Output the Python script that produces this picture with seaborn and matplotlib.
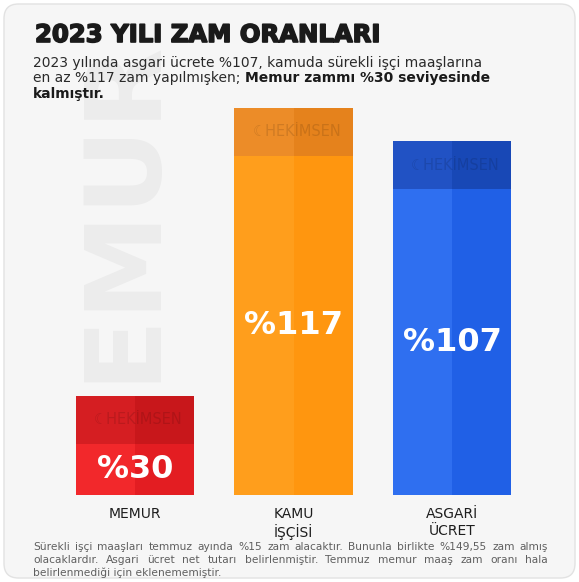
import matplotlib
matplotlib.use("agg")

import matplotlib.pyplot as plt
import matplotlib.patheffects as pe
import seaborn as sns
import pandas as pd
from matplotlib.patches import FancyBboxPatch

categories = ["MEMUR", "KAMU\nİŞÇİSİ", "ASGARİ\nÜCRET"]
values = [30, 117, 107]
value_labels = ["%30", "%117", "%107"]
base_colors = ["#f2282b", "#ff9e1c", "#2f6ff0"]
shade_colors = ["#e31d22", "#ff960f", "#2060e6"]
band_colors = ["#d51e22", "#ec8c28", "#2152c4"]
band_shade_colors = ["#c8171b", "#e5821c", "#1848b6"]

title = "2023 YILI ZAM ORANLARI"
subtitle_lines = [
    ("2023 yılında asgari ücrete %107, kamuda sürekli işçi maaşlarına", ""),
    ("en az %117 zam yapılmışken; ", "Memur zammı %30 seviyesinde"),
    ("", "kalmıştır."),
]
footer_lines = [
    "Sürekli işçi maaşları temmuz ayında %15 zam alacaktır. Bununla birlikte %149,55 zam almış",
    "olacaklardır. Asgari ücret net tutarı belirlenmiştir. Temmuz memur maaş zam oranı hala",
    "belirlenmediği için eklenememiştir.",
]

sns.set_theme(style="white")
plt.rcParams["font.family"] = ["DejaVu Sans"]

W, H = 579, 582
fig = plt.figure(figsize=(W / 100, H / 100), dpi=100)
fig.patch.set_facecolor("white")

# card background
card = FancyBboxPatch((4 / W, 4 / H), 1 - 8 / W, 1 - 8 / H,
                      boxstyle="round,pad=0,rounding_size=0.025",
                      transform=fig.transFigure, facecolor="#f6f6f6",
                      edgecolor="#e2e2e2", linewidth=1, zorder=-2)
fig.patches.append(card)

# faint watermark
fig.text(123 / W, 1 - 262 / H, "MEMUR", rotation=90, fontsize=76,
         fontweight="heavy", color="#ececec", ha="center", va="center", zorder=-1)

ax = fig.add_axes([55.75 / W, 87 / H, 475.5 / W, 430 / H])
ax.set_facecolor("none")
ax.set_zorder(1)

df = pd.DataFrame({"category": categories, "value": values})
bar_w = 0.745
sns.barplot(data=df, x="category", y="value", hue="category", linewidth=0,
            palette=base_colors, width=bar_w, legend=False, saturation=1, ax=ax)

band = 14.5
xs = range(len(categories))
for i in xs:
    v = values[i]
    ax.bar(i + bar_w / 4, v - band, width=bar_w / 2, color=shade_colors[i], linewidth=0, zorder=2)
    ax.bar(i - bar_w / 4, band, bottom=v - band, width=bar_w / 2, color=band_colors[i],
           linewidth=0, zorder=2)
    ax.bar(i + bar_w / 4, band, bottom=v - band, width=bar_w / 2, color=band_shade_colors[i],
           linewidth=0, zorder=2)
    ax.text(i + 0.02, v - band / 2, "☾HEKİMSEN", ha="center", va="center", fontsize=10.5,
            color="black", alpha=0.12, zorder=3)
    ax.text(i, (v - band) / 2, value_labels[i], ha="center", va="center",
            fontsize=23, fontweight="bold", color="white", zorder=3)

ax.set_xlim(-0.5, 2.5)
ax.set_ylim(0, 130)
ax.set_xlabel("")
ax.set_ylabel("")
ax.set_yticks([])
ax.tick_params(axis="x", length=0, pad=9)
ax.set_xticks(list(xs))
ax.set_xticklabels(categories, fontsize=10, color="#1e1e1e", linespacing=1.2)
sns.despine(ax=ax, left=True, bottom=True)

# title and subtitle
fig.text(35 / W, 1 - 35 / H, title, fontsize=17.5, fontweight="heavy",
         color="#1a1a1a", va="center", ha="left",
         path_effects=[pe.withStroke(linewidth=1.2, foreground="#1a1a1a")])

y0 = 67
for k, (normal, bold) in enumerate(subtitle_lines):
    y = 1 - (y0 + k * 15.5) / H
    t = fig.text(33 / W, y, normal, fontsize=10, color="#2a2a2a", va="baseline")
    if bold:
        if normal:
            ax.annotate(bold, xy=(1, 0), xycoords=t, fontsize=10, fontweight="bold",
                        color="#1a1a1a", va="bottom", ha="left", annotation_clip=False)
        else:
            fig.text(33 / W, y, bold, fontsize=10, fontweight="bold",
                     color="#1a1a1a", va="baseline")

# footer, justified for the full lines
renderer = fig.canvas.get_renderer()
left_px, right_px = 33, 548
for k, line in enumerate(footer_lines):
    y = 1 - (550 + k * 13) / H
    if k == len(footer_lines) - 1:
        fig.text(left_px / W, y, line, fontsize=7.7, color="#5f5f5f", va="baseline")
        continue
    words = line.split(" ")
    objs = [fig.text(0, y, w_, fontsize=7.7, color="#5f5f5f", va="baseline") for w_ in words]
    widths = [o.get_window_extent(renderer).width for o in objs]
    gap = (right_px - left_px - sum(widths)) / (len(words) - 1)
    x = left_px
    for o, wd in zip(objs, widths):
        o.set_x(x / W)
        x += wd + gap

fig.savefig("out.png", dpi=100)
